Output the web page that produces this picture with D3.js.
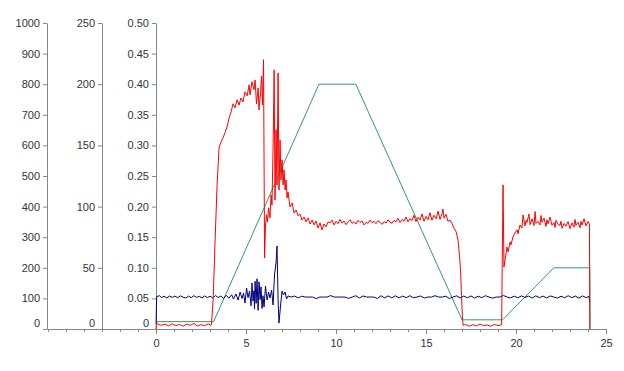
<!DOCTYPE html>
<html>
<head>
<meta charset="utf-8">
<script src="https://cdn.jsdelivr.net/npm/d3@7"></script>
<style>
  body { margin: 0; background: #fff; }
  .axis text { font-family: "Liberation Sans", Arial, sans-serif; font-size: 11px; fill: #333; }
  .axis path, .axis line { stroke: #868686; }
</style>
</head>
<body>
<div class="chart"></div>
<script>
let w = 624;
let h = 371;

// tick labels
const xTicks = [0, 5, 10, 15, 20, 25];
const xMinorTicks = [-6, -5, -4, -3, -2, -1, 0, 1, 2, 3, 4, 5, 6, 7, 8, 9, 10, 11, 12, 13, 14, 15, 16, 17, 18, 19, 20, 21, 22, 23, 24, 25];
const y1Ticks = [0, 100, 200, 300, 400, 500, 600, 700, 800, 900, 1000];
const y2Ticks = [0, 50, 100, 150, 200, 250];
const y3Ticks = [0, 0.05, 0.10, 0.15, 0.20, 0.25, 0.30, 0.35, 0.40, 0.45, 0.50];

// red series, left axis (0-1000): [time, value]
const redPoints = [
  [0,0],[0.02,18],[0.3,12],[0.5,16],[0.7,10],[0.9,17],[1.1,11],[1.3,15],[1.5,9],[1.7,16],[1.9,12],[2.1,18],[2.3,10],[2.5,14],[2.7,11],[2.9,17],[3.05,12],
  [3.08,16],[3.17,95],[3.28,290],[3.39,470],[3.5,592],[3.61,611],[3.72,625],[3.83,641],[3.94,660],[4.06,690],[4.17,710],[4.28,736],[4.39,723],[4.5,749],
  [4.61,732],[4.72,755],[4.83,742],[4.94,775],[5.06,762],[5.17,798],[5.22,765],[5.33,808],[5.44,782],[5.5,814],[5.58,736],[5.67,788],[5.72,716],[5.81,775],
  [5.86,827],[5.92,732],[5.97,880],[6.03,232],[6.08,340],[6.14,373],[6.19,350],[6.25,396],[6.33,363],[6.39,438],[6.44,405],[6.5,585],[6.56,847],[6.61,422],
  [6.67,651],[6.72,471],[6.78,837],[6.83,454],[6.89,618],[6.94,487],[7.0,553],[7.06,471],[7.11,520],[7.17,454],[7.22,487],[7.28,428],[7.33,448],[7.44,399],
  [7.56,412],[7.67,379],[7.78,389],[7.89,370],[8.0,376],[8.11,356],[8.22,366],[8.33,350],[8.44,363],[8.56,343],[8.67,356],[8.78,340],[8.89,353],[9.0,330],
  [9.11,347],[9.22,324],[9.33,343],[9.44,334],[9.56,350],
  [9.67,347],[9.78,356],[9.89,340],[10.0,352],[10.11,344],[10.22,358],[10.33,346],[10.44,353],[10.56,341],[10.67,350],[10.78,357],[10.89,345],[11.0,351],
  [11.11,343],[11.22,355],[11.33,348],[11.44,353],[11.56,340],[11.67,349],[11.78,345],[11.89,356],[12.0,347],[12.11,352],[12.22,344],[12.33,354],[12.44,349],
  [12.56,342],[12.67,351],[12.78,346],[12.89,357],[13.0,349],[13.11,345],[13.22,355],[13.33,350],[13.44,362],[13.56,348],[13.67,358],[13.78,352],[13.89,366],
  [14.0,350],[14.11,360],[14.22,354],[14.33,372],[14.44,351],[14.56,365],[14.67,356],[14.78,376],[14.89,352],[15.0,368],[15.11,357],[15.22,380],[15.33,355],
  [15.44,372],[15.56,360],[15.67,385],[15.78,358],[15.89,378],[15.94,392],[16.0,362],[16.11,375],[16.22,352],[16.33,356],[16.44,345],[16.55,330],[16.67,318],
  [16.78,290],[16.86,240],[16.92,190],[16.97,110],[17.02,40],[17.06,12],
  [17.2,15],[17.4,9],[17.6,14],[17.8,10],[18.0,16],[18.2,11],[18.4,13],[18.6,9],[18.8,15],[19.0,11],[19.2,14],
  [19.28,471],[19.33,203],[19.39,226],[19.5,268],[19.56,252],[19.67,284],[19.72,275],[19.83,301],[19.94,314],[20.06,324],[20.11,311],[20.22,340],[20.33,330],
  [20.39,373],[20.5,337],[20.56,355],[20.61,348],[20.72,376],[20.78,341],[20.89,360],[21.0,338],[21.06,384],[21.11,345],[21.22,352],[21.33,340],[21.39,371],
  [21.44,349],[21.56,362],[21.67,335],[21.72,357],[21.78,344],[21.89,366],[22.0,339],[22.11,348],[22.17,332],[22.22,355],[22.33,343],[22.44,338],[22.5,352],
  [22.56,329],[22.67,345],[22.78,336],[22.89,351],[23.0,328],[23.11,347],[23.22,333],[23.28,358],[23.33,339],[23.44,349],[23.56,331],[23.61,352],[23.67,340],
  [23.78,360],[23.89,337],[24.0,351],[24.08,343],[24.1,0]
];

// blue series, middle axis (0-250)
const bluePoints = [
  [0,4],[0.03,26.5],[0.2,27.2],[0.3,25.6],[0.45,26.8],[0.6,25.4],[0.75,27],[0.9,25.8],[1.05,26.9],[1.2,25.5],[1.35,27.1],[1.5,26],[1.65,25.3],[1.8,26.9],
  [1.95,25.6],[2.1,27.2],[2.25,25.8],[2.4,26.7],[2.55,25.4],[2.7,27],[2.85,25.6],[3.0,26.8],[3.15,25.3],[3.3,27.3],[3.45,25.7],[3.6,26.9],[3.75,24.9],
  [3.9,27.5],[4.05,25.2],[4.2,28],[4.3,24.5],
  [4.44,28.6],[4.56,23.7],[4.67,30.2],[4.78,24.9],[4.86,29.5],[4.94,21.2],[5.03,33.5],[5.11,25.6],[5.19,30.9],[5.28,19],[5.33,37.6],[5.39,22.8],[5.44,31.2],
  [5.47,16.3],[5.5,39],[5.56,21],[5.61,41],[5.67,15.2],[5.72,38.6],[5.78,24],[5.83,34.5],[5.89,16.8],[5.94,27.2],[6.0,18],[6.08,35.1],[6.17,23.7],[6.25,30.2],
  [6.33,25.3],[6.42,31.9],[6.5,19.6],[6.58,44.1],[6.67,54.7],[6.72,67.8],[6.78,23.7],[6.83,4.9],[6.92,19.6],[7.0,31],[7.08,27.8],[7.17,30.2],[7.25,24.5],
  [7.33,27],
  [7.5,26.1],[7.7,26.9],[7.9,25.4],[8.1,26.8],[8.3,26.1],[8.5,26.1],[8.7,26.1],[8.9,24.8],[9.1,26.1],[9.3,26.1],[9.5,26.1],[9.7,27.3],[9.9,26.1],[10.1,26.1],
  [10.3,26.1],[10.5,26.1],[10.7,25],[10.9,26.1],[11.1,27.2],[11.3,25.3],[11.5,27],[11.7,26.1],[11.9,26.1],[12.1,26.1],[12.3,24.9],[12.5,27.2],[12.7,25.4],
  [12.9,27],[13.1,25.5],[13.3,27.1],[13.5,25.4],[13.7,26.9],[13.9,25.6],[14.1,27.2],[14.3,25.5],[14.5,26.1],[14.7,27],[14.9,25.3],[15.1,26.1],[15.3,26.1],
  [15.5,27.2],[15.7,26.1],[15.9,26.1],[16.1,26.8],[16.3,24.9],[16.5,26.1],[16.7,27.1],[16.9,25.4],[17.1,26.9],[17.3,25.5],[17.5,27],[17.7,25.3],[17.9,26.8],
  [18.1,25.6],[18.3,27.2],[18.5,26.1],[18.7,25.2],[18.9,26.1],[19.1,26.1],[19.3,27.4],[19.5,26.1],[19.7,25.4],[19.9,26.8],[20.1,25.5],[20.3,27],[20.5,25.8],
  [20.7,26.9],[20.9,25.3],[21.1,27.1],[21.3,25.6],[21.5,26.9],[21.7,25.4],[21.9,27],[22.1,26.1],[22.3,25.3],[22.5,26.8],[22.7,25.5],[22.9,27.2],[23.1,25.6],
  [23.3,26.9],[23.5,25.2],[23.7,27],[23.9,25.6],[24.05,26.7],[24.1,22]
];

// green series, right axis (0-0.5)
const greenPoints = [
  [0,0.012],[3.2,0.012],[9.05,0.40],[11.1,0.40],[17.0,0.015],[19.25,0.015],[22.1,0.10],[24.1,0.10],[24.12,0]
];

const svg = d3.select(".chart")
              .append("svg")
              .attr("width", w)
              .attr("height", h)
              .style("background-color", "white")

const xScale = d3.scaleLinear()
                 .domain([-6.06, 25])
                 .range([47, 606])

const y1 = d3.scaleLinear().domain([0, 1000]).range([329, 23])
const y2 = d3.scaleLinear().domain([0, 250]).range([329, 23])
const y3 = d3.scaleLinear().domain([0, 0.5]).range([329, 23])

// x axis: minor ticks first, then labelled major ticks
svg.append("g")
   .attr("class", "axis")
   .attr("transform", "translate(0," + y1(0) + ")")
   .call(d3.axisBottom(xScale).tickValues(xMinorTicks).tickSize(3).tickSizeOuter(0).tickFormat(""))

svg.append("g")
   .attr("class", "axis")
   .attr("transform", "translate(0," + y1(0) + ")")
   .call(d3.axisBottom(xScale).tickValues(xTicks).tickSize(5).tickSizeOuter(0).tickPadding(5).tickFormat(d3.format("d")))
   .call(g => g.select(".domain").remove())

let yAxes = [
  { scale: y1, ticks: y1Ticks, x: 47, fmt: d3.format("d") },
  { scale: y2, ticks: y2Ticks, x: 102, fmt: d3.format("d") },
  { scale: y3, ticks: y3Ticks, x: 156, fmt: (d) => d === 0 ? "0" : d3.format(".2f")(d) }
]

yAxes.forEach((a) => {
  svg.append("g")
     .attr("class", "axis")
     .attr("transform", "translate(" + a.x + ",0)")
     .call(d3.axisLeft(a.scale).tickValues(a.ticks).tickSize(4).tickSizeOuter(0).tickPadding(3).tickFormat(a.fmt))
     .call(g => g.selectAll(".tick text").filter((d) => d === 0).attr("y", -6))
})

const line = (ys) => d3.line()
                       .x((d) => xScale(d[0]))
                       .y((d) => ys(d[1]))

svg.append("path")
   .datum(greenPoints)
   .attr("d", line(y3))
   .attr("fill", "none")
   .attr("stroke", "#339966")
   .attr("stroke-width", 1)

svg.append("path")
   .datum(bluePoints)
   .attr("d", line(y2))
   .attr("fill", "none")
   .attr("stroke", "#000080")
   .attr("stroke-width", 1)

svg.append("path")
   .datum(redPoints)
   .attr("d", line(y1))
   .attr("fill", "none")
   .attr("stroke", "#ff0000")
   .attr("stroke-width", 1)
</script>
</body>
</html>
